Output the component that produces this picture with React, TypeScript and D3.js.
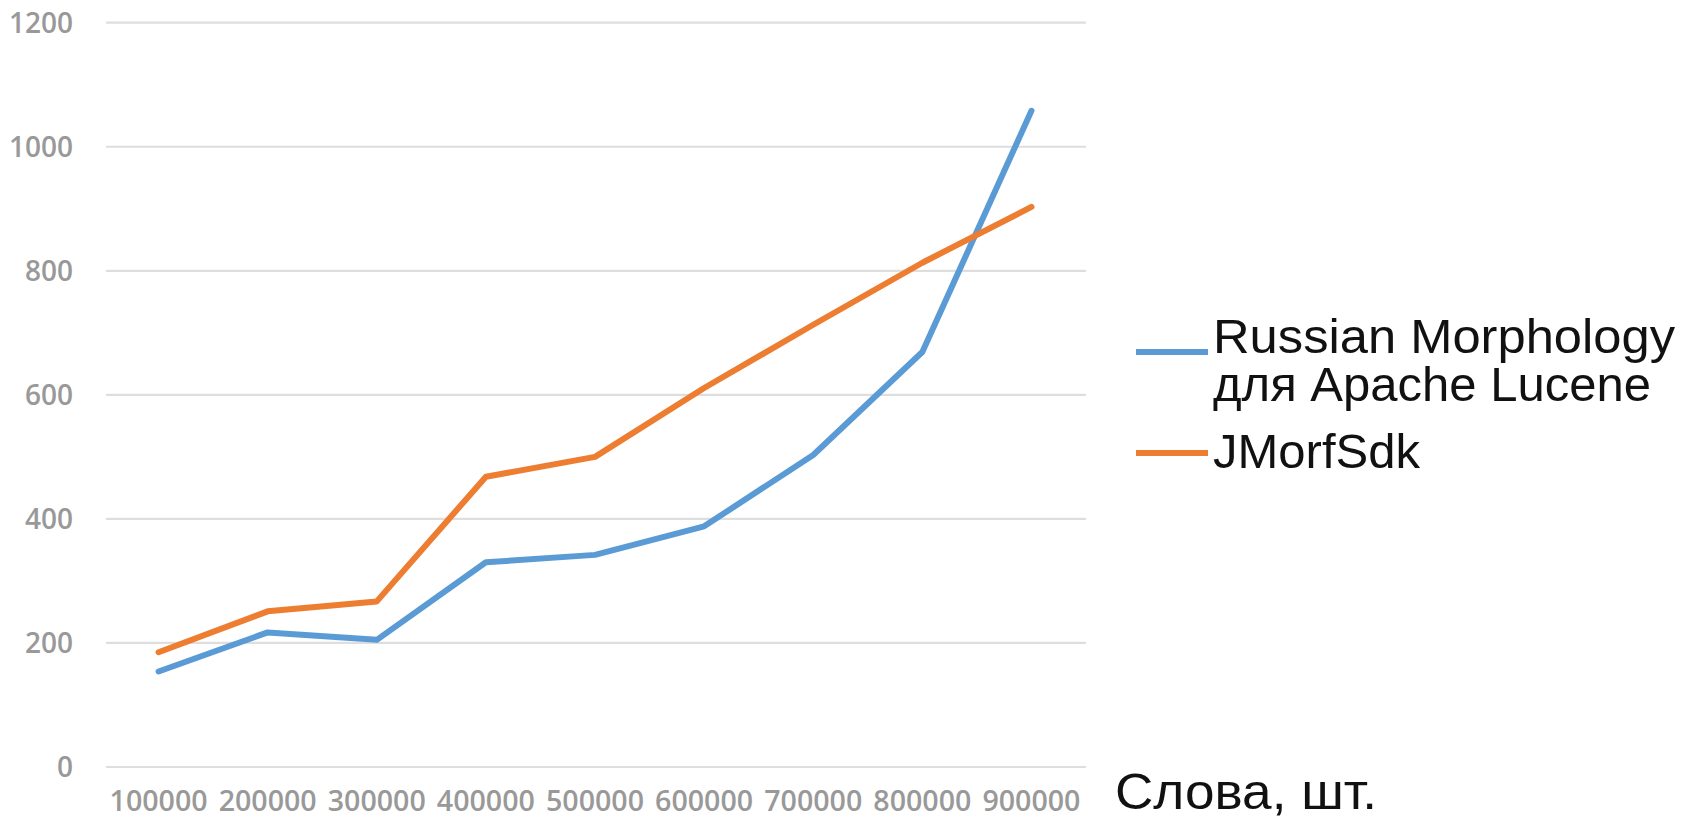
import React from "react";
import * as d3 from "d3";

const categories = ["100000", "200000", "300000", "400000", "500000", "600000", "700000", "800000", "900000"];
const russianMorphology = [154, 217, 205, 330, 342, 388, 503, 669, 1058];
const jMorfSdk = [185, 251, 267, 468, 500, 611, 713, 813, 903];
const yTicks = [0, 200, 400, 600, 800, 1000, 1200];
const seriesNames = ["Russian Morphology\nдля Apache Lucene", "JMorfSdk"];
const seriesColors = ["#5b9bd5", "#ed7d31"];
const xTitle = "Слова, шт.";

const W = 1681;
const H = 821;

export default function App() {
  const x = d3.scalePoint<string>().domain(categories).range([104, 1086]).padding(0.5);
  const y = d3.scaleLinear().domain([0, 1200]).range([767, 22.7]);
  const line = d3
    .line<number>()
    .x((_, i) => x(categories[i]) as number)
    .y((d) => y(d))
    .curve(d3.curveLinear);
  const series = [russianMorphology, jMorfSdk];
  const legendBaselines = [[353, 401], [468]];
  const legendLineY = [352, 453];

  return (
    <svg
      width={W}
      height={H}
      viewBox={`0 0 ${W} ${H}`}
      style={{ position: "absolute", left: 0, top: 0, background: "#fff" }}
    >
      <rect x={0} y={0} width={W} height={H} fill="#fff" />
      {yTicks.map((t) => (
        <g key={t}>
          <line x1={106} x2={1086} y1={y(t)} y2={y(t)} stroke="#dedede" strokeWidth={2.2} />
          <text
            x={73}
            y={y(t)}
            dy="0.36em"
            textAnchor="end"
            fontFamily="'Open Sans', sans-serif"
            fontSize={28}
            fontWeight={600}
            fill="#999"
          >
            {t}
          </text>
        </g>
      ))}
      {categories.map((c) => (
        <text
          key={c}
          x={x(c) as number}
          y={811}
          textAnchor="middle"
          fontFamily="'Open Sans', sans-serif"
          fontSize={28}
          fontWeight={600}
          fill="#999"
          textLength={98}
          lengthAdjust="spacingAndGlyphs"
        >
          {c}
        </text>
      ))}
      {series.map((s, i) => (
        <path
          key={i}
          d={line(s) as string}
          fill="none"
          stroke={seriesColors[i]}
          strokeWidth={6}
          strokeLinejoin="round"
          strokeLinecap="round"
        />
      ))}
      {seriesNames.map((name, i) => (
        <g key={name}>
          <line x1={1136} x2={1208} y1={legendLineY[i]} y2={legendLineY[i]} stroke={seriesColors[i]} strokeWidth={6} />
          {name.split("\n").map((ln, j) => (
            <text
              key={j}
              x={1213}
              y={legendBaselines[i][j]}
              fontFamily="'Liberation Sans', Arial, sans-serif"
              fontSize={49}
              fill="#111"
              textLength={j === 0 && i === 0 ? 462 : undefined}
              lengthAdjust="spacingAndGlyphs"
            >
              {ln}
            </text>
          ))}
        </g>
      ))}
      <text x={1115} y={809} fontFamily="'Liberation Sans', Arial, sans-serif" fontSize={50} fill="#111" textLength={262} lengthAdjust="spacingAndGlyphs">
        {xTitle}
      </text>
    </svg>
  );
}
